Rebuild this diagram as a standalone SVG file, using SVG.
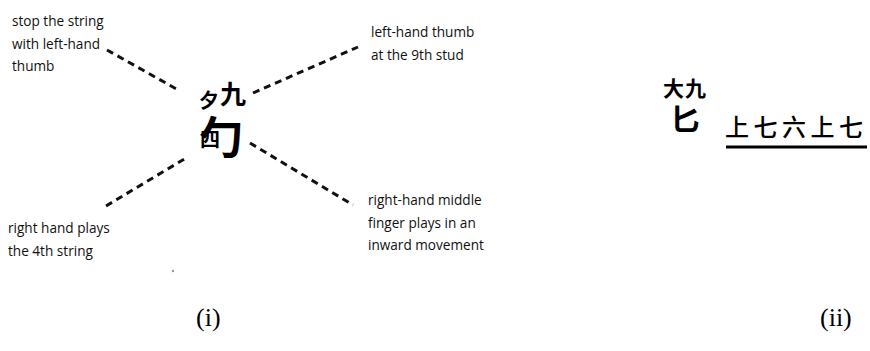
<svg xmlns="http://www.w3.org/2000/svg" width="870" height="351" viewBox="0 0 870 351">
<style>
.lbl{font-family:"Open Sans","Noto Sans",sans-serif;font-size:13.6px;fill:#111}
.dash{stroke:#111;stroke-width:3;stroke-dasharray:7 5;fill:none}
.hw{font-family:"Noto Sans CJK SC","Noto Sans CJK JP",sans-serif;fill:#000;font-weight:bold}
.cap{font-family:"Liberation Serif",serif;font-size:26px;fill:#000}
</style>
<rect width="870" height="351" fill="#fff"/>
<g id="connectors">
<line class="dash" x1="107" y1="50" x2="180" y2="91"/>
<line class="dash" x1="253" y1="93" x2="358" y2="47"/>
<line class="dash" x1="106" y1="206" x2="186" y2="158"/>
<line class="dash" x1="250" y1="143" x2="353" y2="205"/>
</g>
<g id="char-i">
<text class="hw" x="199" y="108" font-size="20">夕</text>
<text class="hw" x="220" y="104" font-size="26">九</text>
<text class="hw"><tspan x="199" y="154" font-size="44">勹</tspan><tspan x="200" y="147" font-size="20">四</tspan></text>
</g>
<g id="label-tl">
<text class="lbl" x="12" y="26">stop the string</text>
<text class="lbl" x="12" y="48.5">with left-hand</text>
<text class="lbl" x="12" y="71">thumb</text>
</g>
<g id="label-tr">
<text class="lbl" x="371" y="37">left-hand thumb</text>
<text class="lbl" x="371" y="60">at the 9th stud</text>
</g>
<g id="label-bl">
<text class="lbl" x="8" y="233">right hand plays</text>
<text class="lbl" x="8" y="256">the 4th string</text>
</g>
<g id="label-br">
<text class="lbl" x="368" y="205">right-hand middle</text>
<text class="lbl" x="368" y="227.5">finger plays in an</text>
<text class="lbl" x="368" y="250">inward movement</text>
</g>
<circle cx="173" cy="271" r="1.2" fill="#999"/>
<g id="char-ii">
<text class="hw" x="663" y="96" font-size="21">大</text>
<text class="hw" x="685" y="96" font-size="21">九</text>
<text class="hw" x="670" y="130" font-size="30">匕</text>
</g>
<g id="notes-ii">
<text class="hw" x="725" y="136" font-size="24" letter-spacing="4.5" style="font-weight:500">上七六上七</text>
<line x1="726" y1="147" x2="867" y2="147" stroke="#000" stroke-width="3"/>
</g>
<text class="cap" x="196" y="326">(i)</text>
<text class="cap" x="820" y="326">(ii)</text>
</svg>
